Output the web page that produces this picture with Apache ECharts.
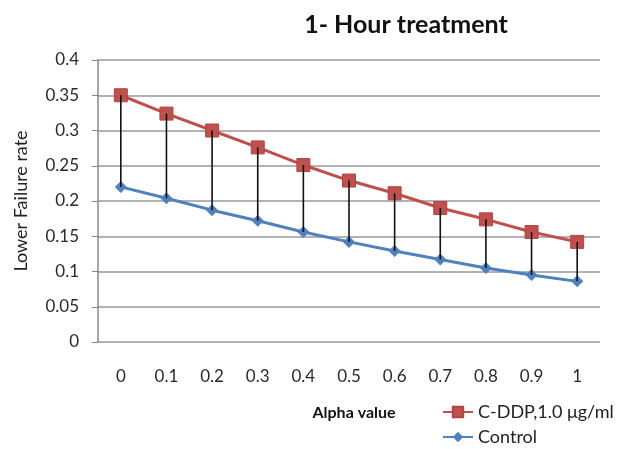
<!DOCTYPE html>
<html>
<head>
<meta charset="utf-8">
<script src="https://cdn.jsdelivr.net/npm/echarts@6/dist/echarts.min.js"></script>
<style>
html,body{margin:0;padding:0;background:#fff;}
#c{width:634px;height:449px;}
</style>
</head>
<body>
<div id="c"></div>
<script>
var categories = ['0','0.1','0.2','0.3','0.4','0.5','0.6','0.7','0.8','0.9','1'];
var cddp = [0.350,0.324,0.300,0.276,0.251,0.229,0.211,0.190,0.174,0.156,0.142];
var control = [0.220,0.204,0.187,0.172,0.156,0.142,0.129,0.117,0.105,0.095,0.086];
var yTicks = ['0','0.05','0.1','0.15','0.2','0.25','0.3','0.35','0.4'];

var dropData = categories.map(function(c, i){ return [i, cddp[i], control[i]]; });
var font = 'Lato, "Open Sans", sans-serif';

var chart = echarts.init(document.getElementById('c'));
chart.setOption({
  animation: false,
  backgroundColor: '#fff',
  title: {
    text: '1- Hour treatment',
    left: 401, top: 7, textAlign: 'center',
    textStyle: {fontFamily: font, fontSize: 25, fontWeight: 'bold', color: '#111'}
  },
  grid: {left: 98, right: 34, top: 60, bottom: 107},
  legend: {
    orient: 'vertical', left: 442, top: 403, height: 80, padding: 0, itemGap: 7,
    itemWidth: 30, itemHeight: 13,
    textStyle: {fontFamily: font, fontSize: 18, color: '#222'},
    data: ['C-DDP,1.0 μg/ml', 'Control']
  },
  xAxis: {
    type: 'category', data: categories, boundaryGap: true,
    name: 'Alpha value', nameLocation: 'middle', nameGap: 63,
    nameTextStyle: {fontFamily: font, fontSize: 16, fontWeight: 'bold', color: '#111', padding: [0, 0, 0, 10]},
    axisLine: {show: false}, axisTick: {show: false},
    axisLabel: {margin: 26, fontFamily: font, fontSize: 17, color: '#2a2a2a'}
  },
  yAxis: {
    type: 'value', min: 0, max: 0.4, interval: 0.05,
    name: 'Lower Failure rate', nameLocation: 'middle', nameGap: 68, nameRotate: 90,
    nameTextStyle: {fontFamily: font, fontSize: 18, color: '#222'},
    axisLine: {show: true, lineStyle: {color: '#888', width: 1.5}},
    axisTick: {show: true, inside: false, length: 6, lineStyle: {color: '#888'}},
    splitLine: {show: true, lineStyle: {color: '#999', width: 1.5}},
    axisLabel: {
      margin: 19, fontFamily: font, fontSize: 17, color: '#2a2a2a',
      formatter: function(v){ var idx = Math.round(v / 0.05); return yTicks[idx]; }
    }
  },
  series: [
    {
      name: 'C-DDP,1.0 μg/ml', type: 'line', data: cddp,
      symbol: 'rect', symbolSize: 13,
      lineStyle: {color: '#C0504D', width: 3},
      itemStyle: {color: '#C0504D', borderColor: '#B04542', borderWidth: 1},
      z: 3
    },
    {
      name: 'Control', type: 'line', data: control,
      symbol: 'diamond', symbolSize: 12,
      lineStyle: {color: '#4F81BD', width: 3},
      itemStyle: {color: '#4F81BD'},
      z: 3
    },
    {
      name: 'drop', type: 'custom', data: dropData, z: 4,
      renderItem: function(params, api){
        var p1 = api.coord([api.value(0), api.value(1)]);
        var p2 = api.coord([api.value(0), api.value(2)]);
        return {type: 'line', shape: {x1: p1[0], y1: p1[1], x2: p2[0], y2: p2[1]},
                style: {stroke: '#111', lineWidth: 1.6}};
      },
      encode: {x: 0, y: [1, 2]},
      silent: true
    }
  ]
});
</script>
</body>
</html>
